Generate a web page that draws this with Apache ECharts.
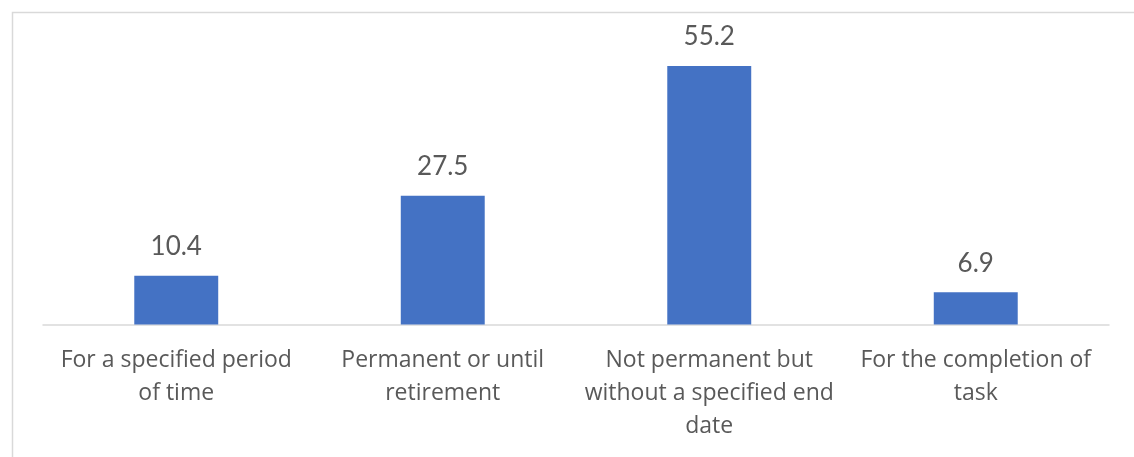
<!DOCTYPE html>
<html>
<head>
<meta charset="utf-8">
<style>
  html, body { margin: 0; padding: 0; background: #ffffff; }
  #chart { width: 1134px; height: 457px; }
</style>
<script src="https://cdn.jsdelivr.net/npm/echarts@6/dist/echarts.min.js"></script>
</head>
<body>
<div id="chart"></div>
<script>
// Type of employment contract (percent)
const categories = [
  'For a specified period\nof time',
  'Permanent or until\nretirement',
  'Not permanent but\nwithout a specified end\ndate',
  'For the completion of\ntask'
];
const values = [10.4, 27.5, 55.2, 6.9];

const textColor = '#595959';
const labelFont = '"Open Sans", Lato, sans-serif';
const valueFont = 'Lato, "Open Sans", sans-serif';

const chart = echarts.init(document.getElementById('chart'), null, { renderer: 'canvas' });

chart.setOption({
  animation: false,
  backgroundColor: '#ffffff',
  graphic: [{
    type: 'rect',
    left: 10, top: 10,
    shape: { width: 1200, height: 500 },
    style: { fill: 'none', stroke: '#d9d9d9', lineWidth: 1.5 },
    silent: true
  }],
  grid: { left: 43, right: 25, top: 43.6, bottom: 132.5, containLabel: false },
  xAxis: {
    type: 'category',
    data: categories,
    axisLine: { show: true, lineStyle: { color: '#d9d9d9', width: 1.5 } },
    axisTick: { show: false },
    axisLabel: {
      interval: 0,
      color: textColor,
      fontFamily: labelFont,
      fontSize: 23,
      lineHeight: 33,
      margin: 19,
      align: 'center'
    }
  },
  yAxis: {
    type: 'value',
    min: 0, max: 60,
    show: false,
    splitLine: { show: false }
  },
  series: [{
    type: 'bar',
    data: values,
    barWidth: '31.5%',
    itemStyle: { color: '#4472c4' },
    label: {
      show: true,
      position: 'top',
      distance: 16,
      color: textColor,
      fontFamily: valueFont,
      fontSize: 26,
      formatter: (p) => p.value.toFixed(1)
    }
  }]
});
</script>
</body>
</html>
